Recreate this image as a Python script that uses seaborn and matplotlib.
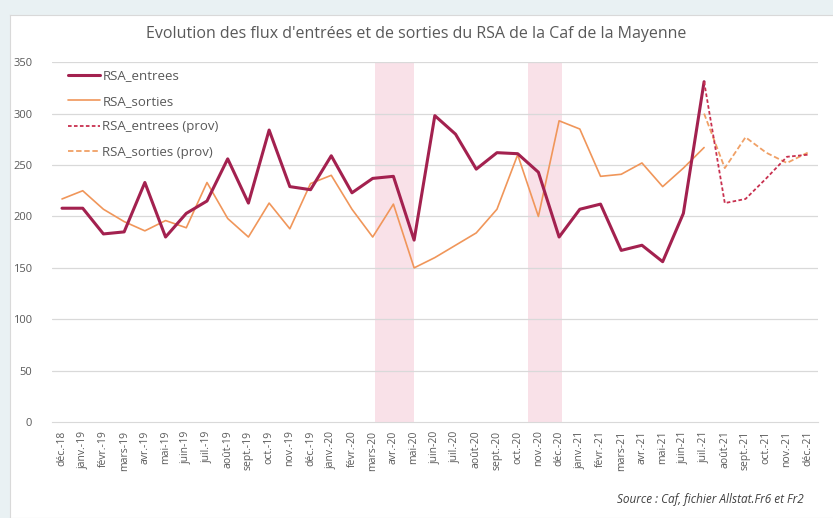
import numpy as np
import pandas as pd
import seaborn as sns
import matplotlib.pyplot as plt

# mois de déc. 2018 à déc. 2021
mois = ['déc.-18', 'janv.-19', 'févr.-19', 'mars-19', 'avr.-19', 'mai-19', 'juin-19',
        'juil.-19', 'août-19', 'sept.-19', 'oct.-19', 'nov.-19', 'déc.-19', 'janv.-20',
        'févr.-20', 'mars-20', 'avr.-20', 'mai-20', 'juin-20', 'juil.-20', 'août-20',
        'sept.-20', 'oct.-20', 'nov.-20', 'déc.-20', 'janv.-21', 'févr.-21', 'mars-21',
        'avr.-21', 'mai-21', 'juin-21', 'juil.-21', 'août-21', 'sept.-21', 'oct.-21',
        'nov.-21', 'déc.-21']

entrees = [208, 208, 183, 185, 233, 180, 203, 215, 256, 213, 284, 229, 226, 259, 223,
           237, 239, 177, 298, 280, 246, 262, 261, 243, 180, 207, 212, 167, 172, 156,
           203, 331]
sorties = [217, 225, 207, 195, 186, 196, 189, 233, 198, 180, 213, 188, 232, 240, 207,
           180, 212, 150, 160, 172, 184, 207, 260, 200, 293, 285, 239, 241, 252, 229,
           247, 267]
entrees_prov = [331, 213, 217, 237, 258, 260]
sorties_prov = [300, 247, 277, 262, 252, 262]

# périodes de confinement (positions en mois)
confinements = [(15.1, 17), (22.5, 24.15)]

x_reel = list(range(len(entrees)))
x_prov = list(range(31, 31 + len(entrees_prov)))

sns.set_style('white')
plt.rcParams['font.family'] = ['Open Sans', 'DejaVu Sans']

fig = plt.figure(figsize=(8.33, 5.18), dpi=100)
fig.patch.set_facecolor('#e9f1f3')
# fond blanc du graphique
bg = fig.add_axes([10 / 833, 0, 1, 503 / 518], zorder=-1)
bg.set_xticks([])
bg.set_yticks([])
bg.set_facecolor('white')
for s in bg.spines.values():
    s.set_color('#d9d9d9')

ax = fig.add_axes([0.062, 0.185, 0.92, 0.695])
ax.set_facecolor('none')

for a, b in confinements:
    ax.axvspan(a, b, color='#f9e1e8', lw=0, zorder=0)

for v in range(50, 351, 50):
    ax.axhline(v, color='#d9d9d9', lw=0.9, zorder=1)

sns.lineplot(x=x_reel, y=entrees, ax=ax, color='#a3214f', lw=2.2, label='RSA_entrees', zorder=4)
sns.lineplot(x=x_reel, y=sorties, ax=ax, color='#f0965a', lw=1.2, label='RSA_sorties', zorder=3)
sns.lineplot(x=x_prov, y=entrees_prov, ax=ax, color='#c8304f', lw=1.3, ls=(0, (2, 1.3)),
             label='RSA_entrees (prov)', zorder=4)
sns.lineplot(x=x_prov, y=sorties_prov, ax=ax, color='#f0a066', lw=1.3, ls=(0, (3, 1.5)),
             label='RSA_sorties (prov)', zorder=3)

ax.set_xlim(-0.5, len(mois) - 0.5)
ax.set_ylim(0, 350)
ax.set_yticks(range(0, 351, 50))
ax.set_xticks(range(len(mois)))
ax.set_xticklabels(mois, rotation=90, fontsize=7.5, color='#595959')
ax.tick_params(axis='y', labelsize=8, colors='#595959', length=0, pad=14)
ax.tick_params(axis='x', length=0, pad=6)
for s in ['top', 'right', 'left']:
    ax.spines[s].set_visible(False)
ax.spines['bottom'].set_color('#d9d9d9')

leg = ax.legend(loc='upper left', bbox_to_anchor=(0.006, 1.013), frameon=False, fontsize=9.5,
                handlelength=2.4, labelspacing=0.95, handletextpad=0.2)
for t in leg.get_texts():
    t.set_color('#595959')

fig.text(0.5, 0.935, "Evolution des flux d'entrées et de sorties du RSA de la Caf de la Mayenne",
         ha='center', va='center', fontsize=11.5, color='#595959')
fig.text(0.965, 0.035, 'Source : Caf, fichier Allstat.Fr6 et Fr2', ha='right', va='center',
         fontsize=8.5, style='italic', color='#404040')

plt.savefig('out.png', dpi=100, facecolor=fig.get_facecolor())
